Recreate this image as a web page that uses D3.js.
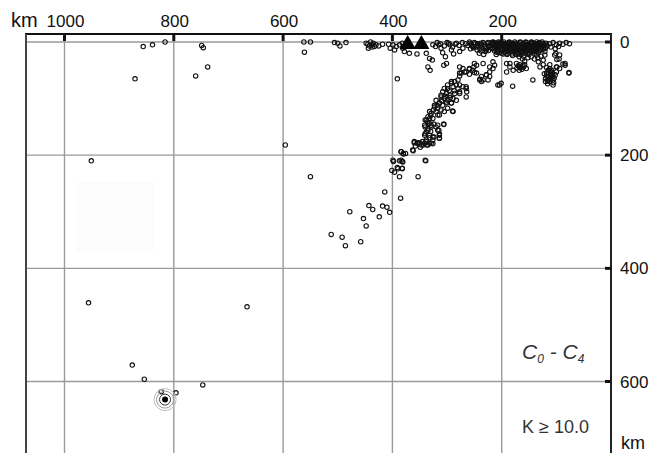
<!DOCTYPE html>
<html>
<head>
<meta charset="utf-8">
<script src="https://cdn.jsdelivr.net/npm/d3@7"></script>
<style>
  body { margin: 0; background: #fff; }
  text { font-family: "Liberation Sans", Arial, sans-serif; }
</style>
</head>
<body>
<svg id="chart"></svg>
<script>
// axis ticks (km)
var xTicks = [1000, 800, 600, 400, 200];
var yTicks = [0, 200, 400, 600];

// hypocentres: [distance km, depth km]
var farEvents = [[856,8],[839,5],[816,0],[749,6],[746,10],[738,44],[760,60],[871,65],[562,0],[550,0],
  [561,18],[951,210],[550,238],[596,182],[956,461],[666,468],[876,571],[854,596],[747,606],[823,618],[796,620],
  [506,1],[500,2],[496,7],[485,1],[391,65]];

var shelfEvents = [[445,4],[442,7],[437,5],[433,8],[430,5],[425,7],[418,4],[448,2],[440,0],[435,2],[444,11],[437,9],
  [407,4],[404,11],[399,5],[396,14],[393,8],[387,5],[382,2],[381,11],[378,17],
  [369,20],[355,21],[338,20],[332,29],[327,32],[335,44],[331,50],[321,8],[315,5],[311,11],[308,19],[303,26],
  [300,1],[295,5],[292,14],[288,21],[283,2],[277,17],[271,11],[259,0],[253,8],
  [266,3],[272,1],[278,6],[285,4],[290,9],[297,2],[305,7],[312,3],[318,1],[326,5]];

var crustEvents = [[258,2],[254,6],[250,1],[247,9],[244,3],[240,12],[237,5],[234,1],[231,8],[228,14],[226,3],[223,6],
  [220,10],[218,1],[215,4],[213,12],[211,7],[209,2],[207,16],[205,9],[203,4],[201,1],[199,12],[197,6],[195,18],
  [193,3],[191,9],[189,14],[187,1],[185,6],[183,11],[181,3],[179,17],[177,8],[175,2],[173,13],[171,5],[169,10],
  [167,1],[165,15],[163,7],[161,3],[159,12],[157,8],[155,1],[153,18],[151,5],[149,10],[147,2],[145,14],[143,7],
  [141,3],[139,11],[137,16],[135,5],[133,9],[131,1],[129,13],[127,6],[125,3],[123,10],[121,17],[119,2],[117,7],
  [200,20],[190,22],[180,24],[170,21],[160,25],[150,22],[140,20],[210,22],[186,18],[176,19],[166,18],[156,16],
  [146,17],[136,14],[196,0],[186,0],[176,0],[166,0],[156,0],[146,0],[136,0],[126,0],[206,0],[216,0],
  [112,3],[106,1],[100,5],[94,2],[88,4],[82,1],[76,3],[110,9],[102,12],[96,8],
  [277,55],[271,47],[265,53],[259,48],[305,82],[299,76],[292,73],[286,70],[280,67],[277,76],[271,79],[265,82],
  [277,91],[311,94],[301,91],[306,41],[301,38],[268,53],[251,44],[246,41],[234,67],[237,61],[228,58],[222,53],
  [216,47],[213,41],[204,76],[201,73],[180,78],[173,38],[167,44],[161,41],[155,47],[179,50],[191,53],[185,38],
  [143,67],[118,55],[112,64],[106,67],[109,50],[100,44],[94,47],[84,41],[77,54],[99,31],[103,23],[94,23],
  [101,20],[84,38],[99,44],[253,50],[246,55],[240,67],[225,67],[250,38],[234,38],[216,35],[222,44],[191,38],
  [185,44],[95,30],[88,39],[77,55],[124,32],[130,44],[112,47],[106,61],[115,55],[100,53],[121,23],[136,23],
  [133,35],[277,44],[259,47],[167,40],[165,45],[170,42],[163,48],[172,46],[160,44],[168,50],[158,40],
  [115,50],[118,60],[110,58],[120,65],[108,62],[113,70],[105,72],[116,68],[122,56],[111,52]];

// the solid black crustal block near the coast
var coreEvents = [[214,1],[212,5],[210,9],[208,13],[206,3],[204,7],[202,11],[200,15],[198,2],[196,5],[194,9],
  [192,13],[190,17],[188,4],[186,8],[184,12],[182,16],[180,2],[178,6],[176,10],[174,14],[172,18],[170,3],[168,7],
  [166,11],[164,15],[162,19],[160,2],[158,6],[156,10],[154,14],[152,4],[150,8],[148,12],[146,16],[144,1],[142,5],
  [140,9],[138,13],[136,3],[134,7],[132,11],[130,15],[128,2],[126,9],[124,13],[122,5],[120,11],[118,4],
  [213,16],[205,19],[197,21],[189,20],[181,21],[173,22],[165,22],[157,20],[149,19],[141,17],[133,18],
  [211,3],[203,1],[195,13],[187,10],[179,12],[171,9],[163,10],[155,5],[147,7],[139,6],[131,6],[193,7],
  [185,3],[177,4],[169,14],[161,16],[153,10],[145,9],[137,9],[129,8],[209,18],[201,6],[183,7],[175,16],
  [168,26],[162,30],[158,34],[152,28],[146,26],[140,30],[134,28],[128,25],[124,40],[118,45],[112,40],
  [108,56],[104,64],[114,62],[110,66],[102,58],[120,70],[116,74],[106,76],
  [256,4],[252,10],[248,3],[243,7],[239,2],[236,9],[232,4],[229,11],[225,1],[222,8],[219,4],[217,12],
  [245,14],[238,16],[230,17],[224,15],[257,12],[262,6],[241,20],[233,22]];

var slabEvents = [[512,340],[492,345],[486,360],[458,353],[478,300],[453,312],[448,325],[443,289],[436,296],
  [424,309],[418,290],[410,292],[405,301],[414,265],[385,276],[387,238],[353,238],[401,227],[396,230],[391,222],
  [382,223],[398,211],[387,210],[382,211],[339,210],[384,194],[380,198],[376,197],[362,192],[360,178],[355,179],
  [350,178],[344,182],[337,182],[332,179],[326,180],[338,173],[332,169],[324,168],[314,170],[340,162],[335,156],
  [340,150],[335,144],[329,147],[340,138],[332,135],[317,147],[315,156],[314,162],[306,146],[317,129],[323,115],
  [314,108],[301,106],[292,108],[290,122],
  [274,55],[277,60],[259,57],[250,54],[240,66],[237,70],[228,58],[222,61],[207,76],[292,70],[289,79],[283,76],
  [299,82],[280,82],[265,79],[264,88],[265,97],[308,88],[301,91],[295,94],[286,91],[277,88],[311,97],[305,100],
  [299,103],[289,100],[283,103],[320,103],[314,108],[308,112],[301,108],[292,108],[323,112],[317,117],[311,120],
  [305,123],[299,117],[289,123],[332,123],[329,126],[320,123],[314,129],[326,135],[335,132],[338,138],[332,144],
  [341,147],[335,153],[329,150],[338,159],[341,165],[332,165],[326,168],[320,150],[317,156],[314,165],[314,170],
  [306,145],[360,176],[354,178],[347,182],[341,179],[335,182],[329,179],[338,176],[326,173],[363,191],[384,194],
  [380,197],[399,209],[384,209],[381,212],[340,209],[390,224],[382,224],
  [296,86],[303,96],[294,98],[287,86],[310,104],[318,112],[325,120],[330,130],[336,141],[330,158],[324,145],
  [345,176],[349,186],[358,184]];

var stations = [372, 347];
var mainShock = [816, 632];

var svg = d3.select("#chart").attr("width", 651).attr("height", 453);

var x = d3.scaleLinear().domain([0, 1000]).range([611, 64.5]);
var y = d3.scaleLinear().domain([0, 600]).range([42, 381.5]);

var frameL = 26, frameR = 611, frameT = 34, frameB = 453;

// faint patch in the scan
svg.append("rect").attr("x", 76).attr("y", 182).attr("width", 78).attr("height", 70)
  .attr("fill", "#fcfcfc");

// grid
svg.append("g").selectAll("line").data(xTicks).enter().append("line")
  .attr("x1", d => x(d)).attr("x2", d => x(d)).attr("y1", frameT).attr("y2", frameB)
  .attr("stroke", "#9a9a9a").attr("stroke-width", 1.4);
svg.append("g").selectAll("line").data(yTicks).enter().append("line")
  .attr("x1", frameL).attr("x2", frameR).attr("y1", d => y(d)).attr("y2", d => y(d))
  .attr("stroke", "#9a9a9a").attr("stroke-width", 1.4);

// frame
svg.append("line").attr("x1", frameL - 1).attr("x2", frameR + 1).attr("y1", frameT).attr("y2", frameT)
  .attr("stroke", "#111").attr("stroke-width", 2);
svg.append("line").attr("x1", frameL).attr("x2", frameL).attr("y1", frameT).attr("y2", frameB)
  .attr("stroke", "#444").attr("stroke-width", 2);
svg.append("line").attr("x1", frameR).attr("x2", frameR).attr("y1", frameT).attr("y2", frameB)
  .attr("stroke", "#222").attr("stroke-width", 2);

// tick marks
svg.append("g").selectAll("rect").data(xTicks).enter().append("rect")
  .attr("x", d => x(d) - 1.5).attr("y", frameT).attr("width", 3).attr("height", 7).attr("fill", "#111");
svg.append("g").selectAll("rect").data(yTicks).enter().append("rect")
  .attr("x", frameR - 6).attr("y", d => y(d) - 1.5).attr("width", 6).attr("height", 3).attr("fill", "#111");

// tick labels
svg.append("text").attr("x", 11).attr("y", 27).attr("font-size", 20).attr("fill", "#111").text("km");
svg.append("g").selectAll("text").data(xTicks).enter().append("text")
  .attr("x", d => x(d) + 1).attr("y", 27).attr("text-anchor", "middle")
  .attr("font-size", 17).attr("fill", "#111").text(d => d);
svg.append("g").selectAll("text").data(yTicks).enter().append("text")
  .attr("x", 620).attr("y", d => y(d) + 6).attr("font-size", 17).attr("fill", "#111").text(d => d);
svg.append("text").attr("x", 621).attr("y", 449).attr("font-size", 18).attr("fill", "#111").text("km");

// events
var allEvents = farEvents.concat(shelfEvents, crustEvents, coreEvents, slabEvents);
svg.append("g").selectAll("circle").data(allEvents).enter().append("circle")
  .attr("cx", d => x(d[0])).attr("cy", d => y(d[1])).attr("r", 2.2)
  .attr("fill", "none").attr("stroke", "#111").attr("stroke-width", 1.1);

// volcanoes
svg.append("g").selectAll("path").data(stations).enter().append("path")
  .attr("d", d3.symbol().type(d3.symbolTriangle).size(115))
  .attr("transform", d => "translate(" + x(d) + "," + (y(0) + 2.3) + ")")
  .attr("fill", "#000");

// main shock
var ms = svg.append("g").attr("transform", "translate(" + x(mainShock[0]) + "," + y(mainShock[1]) + ")");
[[11, "#bbb", 1], [8.5, "#999", 1], [5.5, "#333", 1]].forEach(function (r) {
  ms.append("circle").attr("r", r[0]).attr("fill", "none").attr("stroke", r[1]).attr("stroke-width", r[2]);
});
ms.append("circle").attr("r", 3).attr("fill", "#000");

// labels
var lab = svg.append("text").attr("x", 522).attr("y", 359).attr("font-size", 21)
  .attr("font-style", "italic").attr("fill", "#333");
lab.append("tspan").text("C");
lab.append("tspan").attr("font-size", 12).attr("dy", 4).text("0");
lab.append("tspan").attr("dy", -4).text(" - C");
lab.append("tspan").attr("font-size", 12).attr("dy", 4).text("4");

svg.append("text").attr("x", 522).attr("y", 433).attr("font-size", 18).attr("fill", "#333").text("K ≥ 10.0");
</script>
</body>
</html>
